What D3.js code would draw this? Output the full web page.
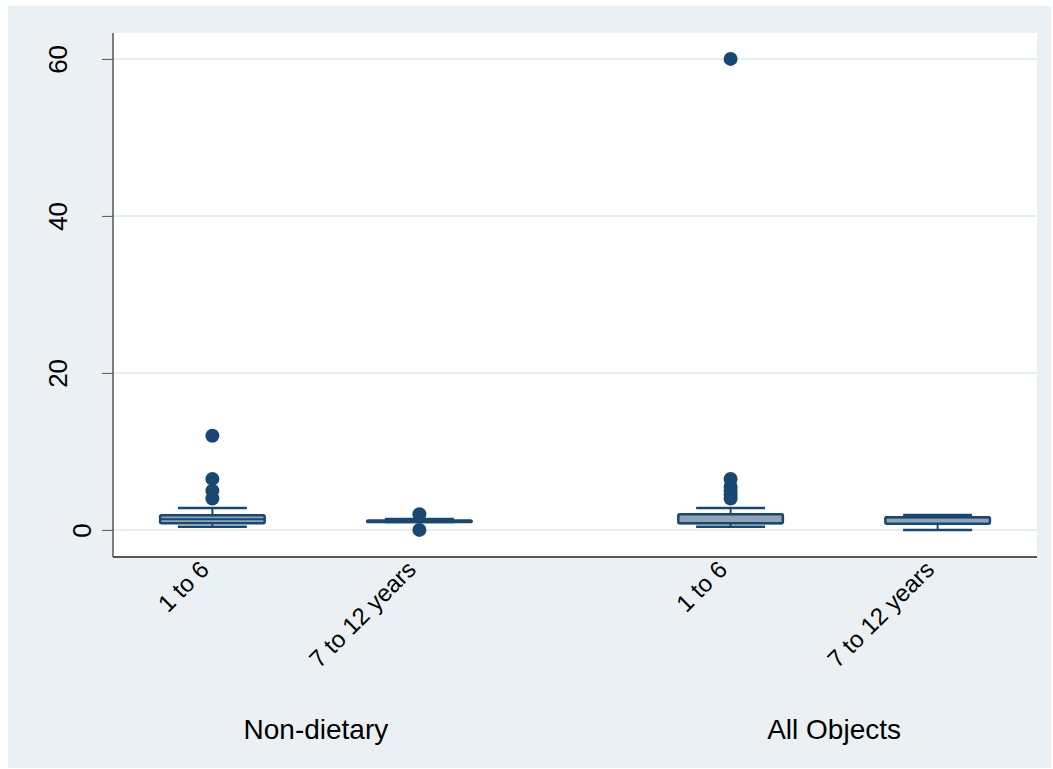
<!DOCTYPE html>
<html>
<head>
<meta charset="utf-8">
<script src="https://cdn.jsdelivr.net/npm/d3@7"></script>
<style>
  body { margin: 0; background: #fff; }
  text { font-family: "Liberation Sans", Arial, sans-serif; }
</style>
</head>
<body>
<svg width="1053" height="769"></svg>
<script>
var groups = ["Non-dietary", "All Objects"];
var ages = ["1 to 6", "7 to 12 years"];

// box stats per group/age: [lowWhisker, q1, median, q3, highWhisker]
var nonDietaryStats = [[0.4, 0.86, 1.37, 1.88, 2.8], [1.0, 1.0, 1.1, 1.2, 1.4]];
var allObjectsStats = [[0.4, 0.86, 0.86, 2.0, 2.8], [0, 0.8, 1.6, 1.6, 1.9]];
var nonDietaryOutliers = [[12, 6.5, 5, 4], [2, 0]];
var allObjectsOutliers = [[60, 6.5, 5.5, 5, 4.5, 4], []];
var yTicks = [0, 20, 40, 60];

var navy = "#1a476f", boxFill = "#90a4b8";

var svg = d3.select("svg");
svg.append("rect").attr("x", 8).attr("y", 6).attr("width", 1043).attr("height", 762)
    .attr("fill", "#eaf0f3");

var pLeft = 113, pRight = 1037, pTop = 33, pBottom = 557;
svg.append("rect").attr("x", pLeft).attr("y", pTop).attr("width", pRight - pLeft)
    .attr("height", pBottom - pTop).attr("fill", "#fff");

var y = d3.scaleLinear().domain([-3.45, 63.3]).range([pBottom, pTop]);

var xOuter = d3.scaleBand().domain(groups).range([pLeft, pRight])
    .paddingInner(0.217).paddingOuter(0);
var xInner = d3.scalePoint().domain(ages).range([0, xOuter.bandwidth()]).padding(0.48);

// grid
svg.append("g").selectAll("line").data(yTicks).enter().append("line")
    .attr("x1", pLeft).attr("x2", pRight)
    .attr("y1", function(d) { return y(d); }).attr("y2", function(d) { return y(d); })
    .attr("stroke", "#e6eef1").attr("stroke-width", 2);

// y axis
var yAxis = svg.append("g").attr("transform", "translate(" + pLeft + ",0)")
    .call(d3.axisLeft(y).tickValues(yTicks).tickSize(11).tickPadding(0).tickFormat(d3.format("d")));
yAxis.select(".domain").attr("stroke", "#555").attr("stroke-width", 1.5).attr("d", "M0," + pTop + "V" + pBottom);
yAxis.selectAll(".tick line").attr("stroke", "#555");
yAxis.selectAll(".tick text").attr("font-size", 26).attr("fill", "#000")
    .attr("text-anchor", "middle")
    .attr("transform", function(d) {
      var len = String(d).length;
      return "translate(" + (-7 - 24 * len) + ",0) rotate(-90)";
    })
    .attr("x", 0).attr("dy", "0.35em");

// x axis line
svg.append("line").attr("x1", pLeft).attr("x2", pRight).attr("y1", pBottom).attr("y2", pBottom)
    .attr("stroke", "#555").attr("stroke-width", 2);

var data = [];
groups.forEach(function(g, gi) {
  var stats = gi === 0 ? nonDietaryStats : allObjectsStats;
  var outs = gi === 0 ? nonDietaryOutliers : allObjectsOutliers;
  ages.forEach(function(a, ai) {
    data.push({group: g, age: a, s: stats[ai], out: outs[ai]});
  });
});

var boxW = xInner.step() * 0.505, capW = boxW * 0.66;

var boxes = svg.append("g").selectAll("g").data(data).enter().append("g")
    .attr("transform", function(d) { return "translate(" + (xOuter(d.group) + xInner(d.age)) + ",0)"; });

boxes.append("line").attr("x1", 0).attr("x2", 0)
    .attr("y1", function(d) { return y(d.s[0]); }).attr("y2", function(d) { return y(d.s[4]); })
    .attr("stroke", navy).attr("stroke-width", 2);
boxes.selectAll(".cap").data(function(d) { return [d.s[0], d.s[4]]; }).enter().append("line")
    .attr("x1", -capW / 2).attr("x2", capW / 2)
    .attr("y1", function(v) { return y(v); }).attr("y2", function(v) { return y(v); })
    .attr("stroke", navy).attr("stroke-width", 2.5);
boxes.append("rect").attr("x", -boxW / 2).attr("width", boxW)
    .attr("y", function(d) { return y(d.s[3]); })
    .attr("height", function(d) { return Math.max(y(d.s[1]) - y(d.s[3]), 0.5); })
    .attr("rx", 1.5)
    .attr("fill", boxFill).attr("stroke", navy).attr("stroke-width", 2.5);
boxes.append("line").attr("x1", -boxW / 2).attr("x2", boxW / 2)
    .attr("y1", function(d) { return y(d.s[2]); }).attr("y2", function(d) { return y(d.s[2]); })
    .attr("stroke", navy).attr("stroke-width", 2);
boxes.selectAll("circle").data(function(d) { return d.out; }).enter().append("circle")
    .attr("cx", 0).attr("cy", function(v) { return y(v); }).attr("r", 7)
    .attr("fill", navy);

// x labels
var labels = svg.append("g");
data.forEach(function(d) {
  var cx = xOuter(d.group) + xInner(d.age);
  labels.append("text")
    .attr("transform", "translate(" + (cx - 2) + "," + (pBottom + 14) + ") rotate(-45)")
    .attr("text-anchor", "end").attr("font-size", 24).attr("fill", "#000")
    .text(d.age);
});
groups.forEach(function(g) {
  labels.append("text").attr("x", xOuter(g) + xOuter.bandwidth() / 2).attr("y", 739)
    .attr("text-anchor", "middle").attr("font-size", 28).attr("fill", "#000").text(g);
});
</script>
</body>
</html>
